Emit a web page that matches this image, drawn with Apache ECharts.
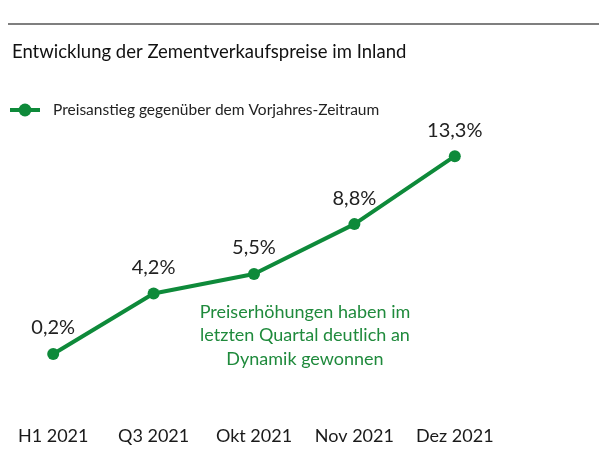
<!DOCTYPE html>
<html><head><meta charset="utf-8">
<script src="https://cdn.jsdelivr.net/npm/echarts@6/dist/echarts.min.js"></script>
<style>html,body{margin:0;padding:0;background:#fff}#c{width:607px;height:462px}</style>
</head><body><div id="c"></div>
<script>
const categories = ['H1 2021', 'Q3 2021', 'Okt 2021', 'Nov 2021', 'Dez 2021'];
const values = [0.2, 4.2, 5.5, 8.8, 13.3];
const seriesName = 'Preisanstieg gegenüber dem Vorjahres-Zeitraum';
const titleText = 'Entwicklung der Zementverkaufspreise im Inland';
const noteText = 'Preiserhöhungen haben im\nletzten Quartal deutlich an\nDynamik gewonnen';
const green = '#0e8a3a';
const FONT = 'Lato';
const chart = echarts.init(document.getElementById('c'));
chart.setOption({
  animation: false,
  title: { text: titleText, left: 7, top: 38, textStyle: { fontFamily: FONT, fontSize: 18.5, fontWeight: 'normal', color: '#111' } },
  legend: { left: 3, top: 97, itemWidth: 30, itemHeight: 16,
    lineStyle: { width: 4 },
    textStyle: { fontFamily: FONT, fontSize: 15.5, color: '#222', padding: [0, 0, 0, 8] }, data: [seriesName] },
  grid: { left: 3, right: 102, top: 55, bottom: 105, containLabel: false },
  xAxis: { type: 'category', data: categories, boundaryGap: true,
    axisLine: { show: false }, axisTick: { show: false },
    axisLabel: { interval: 0, hideOverlap: false, margin: 70, fontFamily: FONT, fontSize: 18, color: '#1a1a1a' } },
  yAxis: { type: 'value', min: 0, max: 20, show: false, splitLine: { show: false } },
  series: [{
    name: seriesName, type: 'line', data: values,
    symbol: 'circle', symbolSize: 12,
    lineStyle: { color: green, width: 4 }, itemStyle: { color: green },
    label: { show: true, position: 'top', distance: 10, fontFamily: FONT, fontSize: 20, color: '#222',
      formatter: p => String(p.value).replace('.', ',') + '%' }
  }],
  graphic: [
    { type: 'line', shape: { x1: 8, y1: 24, x2: 599, y2: 24 }, style: { stroke: '#555', lineWidth: 1.5 } },
    { type: 'text', style: { text: noteText, x: 305, y: 300, textAlign: 'center', textVerticalAlign: 'top', fill: '#1f8a3c',
      font: '18px Lato', lineHeight: 23.5 } }
  ]
});
</script></body></html>
